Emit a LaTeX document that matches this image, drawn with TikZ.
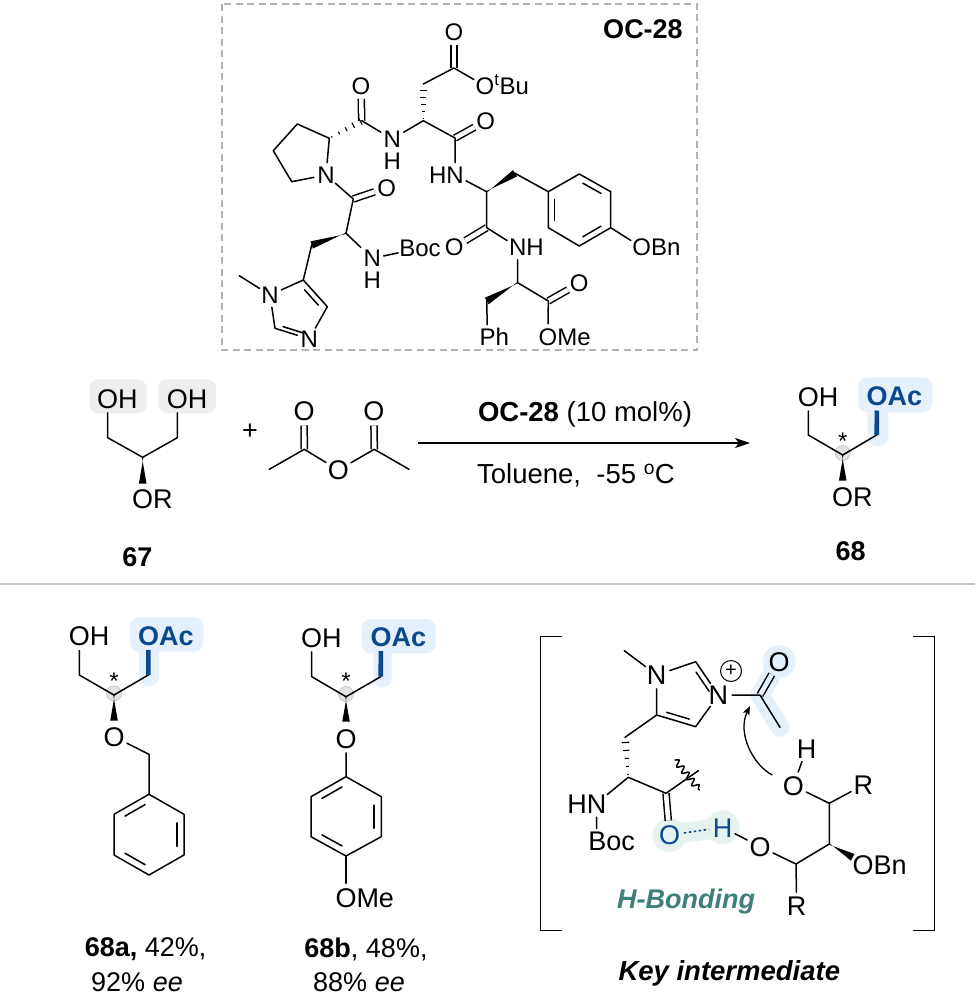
\documentclass[tikz,border=0pt]{standalone}
\usepackage{fontspec}
\setmainfont{Liberation Sans}
\usetikzlibrary{calc,arrows.meta,decorations.pathmorphing}
\definecolor{hlblue}{HTML}{E4F0FC}
\definecolor{hlgray}{HTML}{EEEEEE}
\definecolor{hlgreen}{HTML}{E6F2EF}
\definecolor{acblue}{HTML}{0A4A8C}
\definecolor{teal2}{HTML}{3F7F7A}
\definecolor{rulegray}{HTML}{C8C8C8}
\definecolor{boxgray}{HTML}{B4B4B4}
\tikzset{
  bond/.style={line width=1.5pt,line cap=round,line join=round},
  dbl/.style={bond,double=white,double distance=4.6pt,line cap=butt},
  dblblue/.style={bond,double=hlblue,double distance=4.6pt,line cap=butt},
  acbond/.style={line width=4.6pt,draw=acblue,line cap=butt},
  atom/.style={circle,inner sep=0pt,text height=17.3pt,text depth=0pt,font=\fontsize{24}{28}\selectfont},
  atomh/.style={rectangle,inner sep=0pt,text height=17.3pt,text depth=0pt,font=\fontsize{24}{28}\selectfont},
  atomb/.style={circle,inner sep=0pt,text height=19.4pt,text depth=0pt,font=\fontsize{27}{32}\selectfont},
  acatom/.style={atomb,text=acblue,font=\fontsize{27}{32}\selectfont\bfseries},
  lbl/.style={inner sep=0pt,align=center,font=\fontsize{27}{32}\selectfont},
  lblm/.style={inner sep=0pt,align=center,font=\fontsize{27.5}{32}\selectfont},
  bold27/.style={inner sep=0pt,font=\fontsize{27}{32}\selectfont\bfseries},
  stereo/.style={circle,fill=hlgray!90!gray,draw=rulegray,line width=0.8pt,minimum size=15pt,inner sep=0pt},
  starm/.style={inner sep=0pt,anchor=base,font=\fontsize{24}{28}\selectfont},
  hlbox/.style={fill=hlblue,rounded corners=9pt},
  hlgbox/.style={fill=hlgray,rounded corners=9pt}
}
% wedge and hash bonds between named coordinates
\newcommand{\wedgeb}[2]{\fill ($(#1)!0.7pt!90:(#2)$) -- ($(#2)!3.8pt!90:(#1)$) -- ($(#2)!3.8pt!-90:(#1)$) -- ($(#1)!0.7pt!-90:(#2)$) -- cycle;}
\newcommand{\hashb}[2]{\foreach \tt/\ww in {0.08/0.7,0.30/1.4,0.52/2.2,0.74/3,0.96/3.8}{%
  \draw[line width=1.1pt] ($($(#1)!\tt!(#2)$)!\ww pt!90:(#2)$) -- ($($(#1)!\tt!(#2)$)!\ww pt!-90:(#2)$);}}
% inner line of a ring double bond: ends, ring centre
\newcommand{\innerb}[3]{\draw[bond] ($($(#1)!0.14!(#2)$)!0.2!(#3)$) -- ($($(#1)!0.86!(#2)$)!0.2!(#3)$);}
\begin{document}
\begin{tikzpicture}[x=1pt,y=-1pt]
\useasboundingbox (0,0) rectangle (979,996);
\fill[white] (0,0) rectangle (979,996);

%% ---------- OC-28 box
\draw[boxgray,line width=1.2pt,dash pattern=on 7pt off 4.5pt] (222,4) rectangle (697,350);
\node[inner sep=0pt,font=\fontsize{27}{30}\selectfont\bfseries] (title) at (643,29) {OC-28};

\coordinate (tC1) at (454,68);
\coordinate (tCH2) at (423.3,84);
\coordinate (tA1) at (423.3,120.7);
\coordinate (tHe1) at (423.3,89);
\coordinate (tC2) at (455,138);
\coordinate (tC3) at (361.7,120.7);
\coordinate (tPa) at (329.3,138.3);
\coordinate (r1) at (297.3,124);
\coordinate (r2) at (273.3,150.7);
\coordinate (r3) at (291.7,181.7);
\coordinate (tC4) at (353.3,199);
\coordinate (tA2) at (346,233.3);
\coordinate (tB2) at (311.7,245);
\coordinate (iC5) at (303.3,280);
\coordinate (iC4) at (327.3,306.7);
\coordinate (iC2) at (275,328.3);
\coordinate (iMe) at (239.3,275.7);
\coordinate (iCen) at (296,314);
\coordinate (tA3) at (486.7,191.7);
\coordinate (tB3) at (515,173.3);
\coordinate (a1) at (548.3,191.7);
\coordinate (a2) at (579.3,174);
\coordinate (a3) at (610.7,191.7);
\coordinate (a4) at (610.7,227.7);
\coordinate (a5) at (579.3,246);
\coordinate (a6) at (548.3,227.7);
\coordinate (aCen) at (579.5,210);
\coordinate (tC5) at (486.7,227.7);
\coordinate (tA4) at (517.7,282.7);
\coordinate (tB4) at (486.7,301);
\coordinate (tC6) at (548.3,301);

\node[atom] (tO1) at (454,32) {O};
\node[atom] (tO2) at (485,86) {O\rlap{\textsuperscript{t}Bu}};
\node[atom] (tO3) at (485.7,121) {O};
\node[atom] (tO4) at (361,86) {O};
\node[atom] (tO5) at (386.7,187.7) {O};
\node[atom] (tO6) at (641.7,247.3) {O\rlap{Bn}};
\node[atom] (tO7) at (454.3,247.3) {O};
\node[atom] (tO8) at (579.3,283.3) {O};
\node[atom] (tO9) at (548,336.7) {O\rlap{Me}};
\node[atomh,inner sep=2.5pt] (tN1) at (392.3,139) {N};
\node[atomh] (tH1) at (392.3,160.5) {H};
\node[atom] (tN2) at (326,175) {N};
\node[atomh,inner sep=2.5pt] (tN3) at (372.3,258.3) {N};
\node[atomh] (tH3) at (372.3,279.8) {H};
\node[inner sep=1pt,font=\fontsize{24}{28}\selectfont] (tBoc) at (420,248.3) {Boc};
\node[atom] (tN4) at (455,175) {\llap{H}N};
\node[atom] (tN5) at (517.7,247.3) {N\rlap{H}};
\node[atom] (tPh) at (487.5,336.7) {P\rlap{h}};
\node[atom] (iN1) at (270,295) {N};
\node[atom] (iN3) at (309.3,339) {N};

\draw[dbl] (tC1) -- (tO1);
\draw[dbl] (tC2) -- (tO3);
\draw[dbl] (tC3) -- (tO4);
\draw[dbl] (tC4) -- (tO5);
\draw[dbl] (tC5) -- (tO7);
\draw[dbl] (tC6) -- (tO8);
\draw[bond] (tCH2) -- (tC1) -- (tO2);
\draw[bond] (tA1) -- (tC2) -- (tN4);
\draw[bond] (tN1) -- (tA1);
\draw[bond] (tC3) -- (tN1);
\draw[bond] (tN2) -- (tPa) -- (r1) -- (r2) -- (r3) -- (tN2);
\draw[bond] (tN2) -- (tC4) -- (tA2) -- (tN3) -- (tBoc);
\draw[bond] (tB2) -- (iC5) -- (iC4) -- (iN3) -- (iC2) -- (iN1) -- (iC5);
\draw[bond] (iN1) -- (iMe);
\innerb{iC5}{iC4}{iCen}
\innerb{iC2}{iN3}{iCen}
\draw[bond] (tN4) -- (tA3) -- (tC5) -- (tN5) -- (tA4) -- (tC6) -- (tO9);
\draw[bond] (tB3) -- (a1);
\draw[bond] (a1) -- (a2) -- (a3) -- (a4) -- (a5) -- (a6) -- cycle;
\innerb{a1}{a6}{aCen}
\innerb{a2}{a3}{aCen}
\innerb{a4}{a5}{aCen}
\draw[bond] (a4) -- (tO6);
\draw[bond] (tB4) -- (tPh);
\hashb{tA1}{tHe1}
\hashb{tPa}{tC3}
\wedgeb{tA2}{tB2}
\wedgeb{tA3}{tB3}
\wedgeb{tA4}{tB4}

%% ---------- 67
\fill[hlgbox] (89.3,379.3) rectangle (146.7,413.3);
\fill[hlgbox] (158.3,379.3) rectangle (216,413.3);
\coordinate (sA) at (107.7,437.7);
\coordinate (sC) at (142.7,457.3);
\coordinate (sB) at (177.3,437.7);
\coordinate (sW) at (142.7,483.5);
\node[atomb] (sO1) at (107.7,398.3) {O\rlap{H}};
\node[atomb] (sO2) at (177.3,398.3) {O\rlap{H}};
\node[atomb] (sO3) at (142.7,499) {O\rlap{R}};
\node[bold27] (n67) at (137.3,557.3) {67};
\draw[bond] (sO1) -- (sA) -- (sC) -- (sB) -- (sO2);
\wedgeb{sC}{sW}

%% ---------- plus, Ac2O
\node[inner sep=0pt,font=\fontsize{27}{32}\selectfont] (plus) at (250,432) {+};
\coordinate (cMe1) at (269.3,469.3);
\coordinate (cC1) at (304.3,449.3);
\coordinate (cC2) at (374.3,449.3);
\coordinate (cMe2) at (409,469.3);
\node[atomb] (cO1) at (304,411) {O};
\node[atomb] (cO2) at (338.3,470) {O};
\node[atomb] (cO3) at (373.8,411) {O};
\draw[dbl] (cC1) -- (cO1);
\draw[dbl] (cC2) -- (cO3);
\draw[bond] (cMe1) -- (cC1) -- (cO2) -- (cC2) -- (cMe2);

%% ---------- reaction arrow
\coordinate (arL) at (418,443);
\coordinate (arR) at (750,443);
\draw[line width=1.5pt,-{Stealth[length=15pt,width=10pt,inset=4pt]}] (arL) -- (arR);
\node[lblm] (cond1) at (585,414) {\textbf{OC-28} (10 mol\%)};
\node[lblm] (cond2) at (576,475) {Toluene,~ -55 \textsuperscript{o}C};

%% ---------- 68
\fill[hlbox] (858.3,377.3) rectangle (932.3,412.3);
\fill[hlbox] (867.7,395) rectangle (888.3,446);
\node[stereo] (pS) at (842.7,453) {};
\coordinate (pA) at (808.3,435);
\coordinate (pC) at (842.7,455);
\coordinate (pB) at (876.7,435);
\coordinate (pW) at (842.7,480.7);
\node[atomb] (pO1) at (808.3,396.5) {O\rlap{H}};
\node[acatom] (pO2) at (877,396) {O\rlap{Ac}};
\node[atomb] (pO3) at (842.7,496.7) {O\rlap{R}};
\node[starm] (pStar) at (842.7,449.5) {*};
\node[bold27] (n68) at (850.7,551) {68};
\draw[bond] (pO1) -- (pA) -- (pC) -- (pB);
\draw[acbond] (pB) -- (pO2);
\wedgeb{pC}{pW}

%% ---------- separator
\coordinate (sepL) at (0,584);
\coordinate (sepR) at (975,584);
\draw[rulegray,line width=1.3pt] (sepL) -- (sepR);

%% ---------- 68a
\fill[hlbox] (130,617.3) rectangle (203.3,651.7);
\fill[hlbox] (139,635) rectangle (159,686);
\node[stereo] (qS) at (114,693.3) {};
\coordinate (qA) at (79.3,675);
\coordinate (qC) at (114,695);
\coordinate (qB) at (148.3,675);
\coordinate (qW) at (114,720.7);
\coordinate (qD) at (149,754.3);
\coordinate (q1) at (149,794.3);
\coordinate (q2) at (184,814.3);
\coordinate (q3) at (184,855);
\coordinate (q4) at (149,875);
\coordinate (q5) at (114,855);
\coordinate (q6) at (114,814.3);
\coordinate (qCen) at (149,834.6);
\node[atomb] (qO1) at (79.3,636) {O\rlap{H}};
\node[acatom] (qO2) at (148.5,635.3) {O\rlap{Ac}};
\node[atomb] (qO3) at (114,736.7) {O};
\node[starm] (qStar) at (114,689.5) {*};
\draw[bond] (qO1) -- (qA) -- (qC) -- (qB);
\draw[acbond] (qB) -- (qO2);
\wedgeb{qC}{qW}
\draw[bond] (qO3) -- (qD) -- (q1) -- (q2) -- (q3) -- (q4) -- (q5) -- (q6) -- (q1);
\innerb{q1}{q6}{qCen}
\innerb{q2}{q3}{qCen}
\innerb{q4}{q5}{qCen}
\node[lbl] (l68a) at (145.7,949.3) {\textbf{68a,} 42\%,};
\node[lbl] (l68a2) at (137,982) {92\% \textit{ee}};

%% ---------- 68b
\fill[hlbox] (361.7,619) rectangle (435.7,653.3);
\fill[hlbox] (373.3,637) rectangle (391.7,687.3);
\node[stereo] (uS) at (346,694) {};
\coordinate (uA) at (311.7,676.7);
\coordinate (uC) at (346,696.7);
\coordinate (uB) at (380.7,676.7);
\coordinate (uW) at (346,721.7);
\coordinate (u1) at (346,776.7);
\coordinate (u2) at (381.3,796.7);
\coordinate (u3) at (381.3,836.7);
\coordinate (u4) at (346,856);
\coordinate (u5) at (311,836.7);
\coordinate (u6) at (311,796.7);
\coordinate (uCen) at (346,816.5);
\node[atomb] (uO1) at (311.7,637.3) {O\rlap{H}};
\node[acatom] (uO2) at (381,636.7) {O\rlap{Ac}};
\node[atomb] (uO3) at (346,738.3) {O};
\node[atomb] (uO4) at (346,897.7) {O\rlap{Me}};
\node[starm] (uStar) at (346,689.5) {*};
\draw[bond] (uO1) -- (uA) -- (uC) -- (uB);
\draw[acbond] (uB) -- (uO2);
\wedgeb{uC}{uW}
\draw[bond] (uO3) -- (u1) -- (u2) -- (u3) -- (u4) -- (u5) -- (u6) -- (u1);
\draw[bond] (u4) -- (uO4);
\innerb{u1}{u6}{uCen}
\innerb{u2}{u3}{uCen}
\innerb{u4}{u5}{uCen}
\node[lbl] (l68b) at (366,949.3) {\textbf{68b}, 48\%,};
\node[lbl] (l68b2) at (359,982) {88\% \textit{ee}};

%% ---------- key intermediate
\draw[line width=1.4pt] (561.7,636.7) -- (540.7,636.7) -- (540.7,930.7) -- (561.7,930.7);
\draw[line width=1.4pt] (912.7,636.7) -- (934.3,636.7) -- (934.3,930.7) -- (912.7,930.7);

\coordinate (kC) at (760,695);
\coordinate (kMeA) at (780,727.3);
\coordinate (kOh) at (779,661.7);
\draw[hlblue,line width=19pt,line cap=round,line join=round] (kOh) -- (kC) -- (kMeA);
\fill[hlblue] (kOh) circle (16.5pt);
\coordinate (kHO) at (669.5,835);
\coordinate (kHH) at (722.7,827.3);
\draw[hlgreen,line width=20pt,line cap=round] (kHO) -- (kHH);
\fill[hlgreen] (kHO) circle (17pt);
\fill[hlgreen] (kHH) circle (17pt);

\coordinate (kMe) at (624.3,650.7);
\coordinate (kC2) at (695.7,661.7);
\coordinate (kC4) at (695.7,726.7);
\coordinate (kC5) at (656.7,715);
\coordinate (kCen) at (685,695);
\coordinate (kCH2) at (625,737.3);
\coordinate (kHe) at (625.5,741);
\coordinate (kA) at (628.3,777.3);
\coordinate (kCO) at (666,793.3);
\coordinate (kTip) at (698.3,770.7);
\coordinate (kWa) at (675,760);
\coordinate (kWb) at (699.3,790);
\coordinate (kC6) at (829.3,803.3);
\coordinate (kC7) at (829.3,844);
\coordinate (kC8) at (796,864);
\coordinate (kAr1) at (772.3,775);
\coordinate (kAr2) at (750,706);
\coordinate (kCa) at (753,765);
\coordinate (kCb) at (737,733);
\coordinate (kBt) at (596.7,828.5);

\node[atomb] (kN1) at (656.7,675) {N};
\node[atomb] (kN3) at (718.3,695) {N};
\node[circle,draw,line width=1pt,inner sep=0pt,minimum size=21pt,font=\fontsize{20}{24}\selectfont] (kPlus) at (731,671) {+};
\node[atomb] (kO) at (779,661.7) {O};
\node[atomb] (kN) at (596.5,803.3) {\llap{H}N};
\node[inner sep=0pt,font=\fontsize{27}{32}\selectfont] (kBoc) at (611.7,841.7) {Boc};
\node[atomb,text=acblue] (kOb) at (669.5,835) {O};
\node[atomb,text=acblue] (kHb) at (722.7,827.3) {H};
\node[atomb] (kO2) at (760,846.7) {O};
\node[atomb] (kO3) at (793.3,785.7) {O};
\node[atomb] (kH3) at (806.7,748.3) {H};
\node[atomb] (kR1) at (863.3,785) {R};
\node[atomb] (kR2) at (796.7,906) {R};
\node[atomb] (kOBn) at (863,865) {O\rlap{Bn}};
\coordinate (kW) at (852.7,857.3);

\draw[dblblue] (kC) -- (kO);
\draw[dbl] (kCO) -- (kOb);
\draw[bond] (kMe) -- (kN1) -- (kC2) -- (kN3) -- (kC4) -- (kC5) -- (kN1);
\innerb{kC2}{kN3}{kCen}
\innerb{kC4}{kC5}{kCen}
\draw[bond] (kC5) -- (kCH2);
\draw[bond] (kN3) -- (kC) -- (kMeA);
\hashb{kA}{kHe}
\draw[bond] (kN) -- (kA) -- (kCO) -- (kTip);
\draw[bond] (kN) -- (kBt);
\draw[bond,decorate,decoration={snake,amplitude=3.2pt,segment length=8pt}] (kWa) -- (kWb);
\draw[acblue,line width=1.6pt,dash pattern=on 2.5pt off 2.5pt] (kOb) -- (kHb);
\draw[bond] (kHb) -- (kO2) -- (kC8) -- (kC7) -- (kC6) -- (kO3) -- (kH3);
\draw[bond] (kC6) -- (kR1);
\draw[bond] (kC8) -- (kR2);
\wedgeb{kC7}{kW}
\draw[line width=1.3pt,-{Stealth[length=9pt,width=7pt,inset=2pt]}] (kAr1) .. controls (kCa) and (kCb) .. (kAr2);
\node[inner sep=0pt,text=teal2,font=\fontsize{27}{32}\selectfont\bfseries\itshape] (kHB) at (686,901.7) {H-Bonding};
\node[inner sep=0pt,font=\fontsize{27.5}{32}\selectfont\bfseries\itshape] (kKey) at (729.3,973.3) {Key intermediate};
\end{tikzpicture}
\end{document}
